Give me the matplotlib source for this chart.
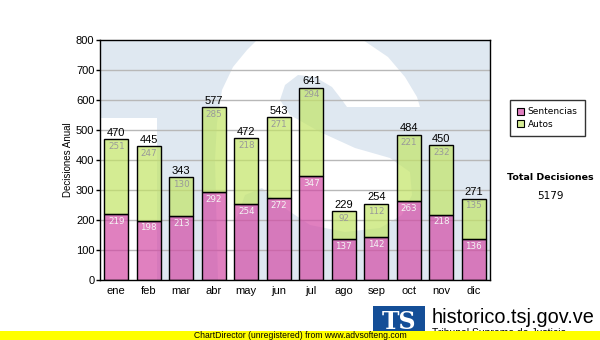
import matplotlib
matplotlib.use('Agg')
from matplotlib import pyplot as plt
from matplotlib.patches import Polygon, Rectangle
from matplotlib.transforms import Bbox, TransformedBbox
import numpy as np

# monthly decisions
months = ['ene', 'feb', 'mar', 'abr', 'may', 'jun',
          'jul', 'ago', 'sep', 'oct', 'nov', 'dic']
sentencias = [219, 198, 213, 292, 254, 272, 347, 137, 142, 263, 218, 136]
autos = [251, 247, 130, 285, 218, 271, 294, 92, 112, 221, 232, 135]
series_names = ['Sentencias', 'Autos']

totals = [s + a for s, a in zip(sentencias, autos)]
grand_total = sum(totals)

pink = (0.827, 0.29, 0.647, 0.7)
green = (0.76, 0.894, 0.4, 0.7)

W, H = 600, 340
fig = plt.figure(figsize=(W / 100, H / 100), dpi=100)
ax = fig.add_axes([100 / W, 60 / H, 390 / W, 240 / H])


def px(x, y):
    # pixel position inside the plot box -> axes fraction
    return ((x - 100) / 390, (280 - y) / 240)


# watermark: light blue field with the white strokes of the logo
ax.add_patch(Rectangle((0, 0), 1, 1, transform=ax.transAxes,
                       facecolor='#dfe8f1', edgecolor='none', zorder=0))
stem = [(100, 118), (157, 118), (157, 280), (100, 280)]
s_shape = [(218, 280), (215, 160), (217, 123), (222, 90), (233, 67),
           (247, 50), (257, 40), (363, 40), (388, 57), (405, 77),
           (417, 97), (420, 107), (347, 107), (342, 100), (332, 87),
           (315, 77), (298, 75), (285, 85), (280, 100), (290, 115),
           (320, 132), (355, 148), (390, 158), (410, 172), (412, 195),
           (402, 215), (380, 228), (345, 232), (310, 225), (280, 205),
           (262, 188), (245, 195), (236, 220), (235, 280)]
for shape in (stem, s_shape):
    ax.add_patch(Polygon([px(*p) for p in shape], closed=True,
                         transform=ax.transAxes, facecolor='white',
                         edgecolor='none', zorder=0.5))

x = np.arange(len(months))
width = 0.73
ax.bar(x, sentencias, width, color=pink, edgecolor='black',
       linewidth=1, zorder=2)
ax.bar(x, autos, width, bottom=sentencias, color=green, edgecolor='black',
       linewidth=1, zorder=2)

for xi, s, a, t in zip(x, sentencias, autos, totals):
    ax.annotate(str(s), (xi, s), xytext=(0, -5.2), textcoords='offset points',
                ha='center', va='center', fontsize=6.3, color='#f4f4f4',
                zorder=3)
    ax.annotate(str(a), (xi, t), xytext=(0, -5.2), textcoords='offset points',
                ha='center', va='center', fontsize=6.3, color='#999999',
                zorder=3)
    ax.annotate(str(t), (xi, t), xytext=(0, 1), textcoords='offset points',
                ha='center', va='bottom', fontsize=8,
                family='Liberation Sans', color='black', zorder=3)

ax.set_xlim(-0.5, len(months) - 0.5)
ax.set_ylim(0, 800)
ax.set_yticks(range(0, 801, 100))
ax.set_xticks(x)
ax.set_xticklabels(months)
for y in range(100, 800, 100):
    ax.axhline(y, color='#b8b8b8', linewidth=1, zorder=1)

for lab in ax.get_xticklabels() + ax.get_yticklabels():
    lab.set_family('Liberation Sans')
    lab.set_fontsize(8)
ax.tick_params(axis='y', length=3, width=1, pad=1)
ax.tick_params(axis='x', length=0, pad=4)
for sp in ax.spines.values():
    sp.set_linewidth(1)
ax.set_ylabel('Decisiones Anual', fontsize=7, family='Liberation Sans',
              labelpad=2)

handles = [Rectangle((0, 0), 1, 1, facecolor=c, edgecolor='black',
                     linewidth=0.8) for c in ('#e07fc0', '#d5ed95')]
leg = fig.legend(handles, series_names, loc='upper left',
                 bbox_to_anchor=(510 / W, 1 - 100 / H), borderaxespad=0,
                 fontsize=6.5, frameon=True, fancybox=False,
                 edgecolor='black', handlelength=0.8, handleheight=0.8,
                 handletextpad=0.35, borderpad=0.8, labelspacing=0.4)
leg.get_frame().set_linewidth(1)

fig.text(550 / W, 1 - 177 / H, 'Total Decisiones', ha='center', va='center',
         fontsize=6.8, fontweight='bold')
fig.text(550 / W, 1 - 196 / H, str(grand_total), ha='center', va='center',
         fontsize=7.5)

# site logo and name
fig.patches.append(Rectangle((373 / W, 0), 52 / W, 34 / H,
                             transform=fig.transFigure, facecolor='#144e97',
                             edgecolor='none', zorder=3))
fig.text(399 / W, 1 - 322 / H, 'TS', ha='center', va='center', fontsize=17,
         fontweight='bold', family='DejaVu Serif', color='white', zorder=3.5)
fig.text(432 / W, 1 - 323 / H, 'historico.tsj.gov.ve', ha='left',
         va='baseline', fontsize=14.3, family='Liberation Sans',
         color='black', zorder=3.5)
# subtitle is hidden behind the banner except for its top edge
above_banner = TransformedBbox(Bbox([[0, 9 / H], [1, 1]]), fig.transFigure)
sub = fig.text(432 / W, 1 - 328 / H, 'Tribunal Supremo de Justicia',
               ha='left', va='top', fontsize=7.5, family='Liberation Sans',
               color='black', zorder=3.5)
sub.set_clip_box(above_banner)
sub.set_clip_on(True)

# unregistered-copy banner
fig.patches.append(Rectangle((0, 0), 1, 9 / H, transform=fig.transFigure,
                             facecolor='#ffff00', edgecolor='none', zorder=5))
fig.text(300 / W, 4.5 / H, 'ChartDirector (unregistered) from www.advsofteng.com',
         ha='center', va='center', fontsize=6.2, family='Liberation Sans',
         color='black', zorder=6)

fig.savefig('out.png', dpi=100, facecolor='white')
